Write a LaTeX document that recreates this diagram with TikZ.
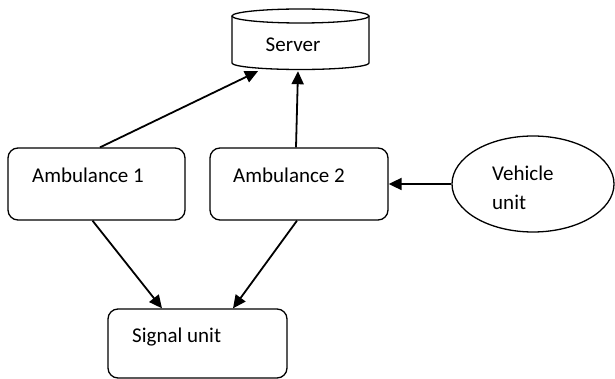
\documentclass[tikz,border=0pt]{standalone}
\usepackage{fontspec}
\setmainfont{Carlito}
\usetikzlibrary{arrows.meta,shapes.geometric,calc}
\begin{document}
\begin{tikzpicture}[x=1pt,y=-1pt,
  font=\fontsize{21}{29}\selectfont,
  outline/.style={draw=black,line width=1.3pt},
  rbox/.style={outline,rounded corners=10pt,inner sep=0pt},
  lbl/.style={anchor=west,inner sep=0pt,align=left},
  conn/.style={line width=1.8pt,-{Triangle[length=13pt,width=12pt]}}]
\useasboundingbox (0,0) rectangle (615,379);
% server cylinder
\node[minimum width=137pt,minimum height=54pt,inner sep=0pt] (server) at (300.5,41) {};
\draw[outline] (232,16) -- (232,63) arc[start angle=180,end angle=360,x radius=68.5pt,y radius=6.5pt] -- (369,16);
\draw[outline] (300.5,16) ellipse[x radius=68.5pt,y radius=7pt];
\node[inner sep=0pt] (servertxt) at (293,45) {Server};
% boxes
\node[rbox,minimum width=177pt,minimum height=72pt] (amb1) at (96.5,184) {};
\node[lbl] (amb1txt) at (32,175) {Ambulance 1};
\node[rbox,minimum width=178pt,minimum height=72pt] (amb2) at (299,184) {};
\node[lbl] (amb2txt) at (233,175) {Ambulance 2};
\node[rbox,minimum width=179pt,minimum height=69pt] (sig) at (197.5,343.5) {};
\node[lbl] (sigtxt) at (132,337) {Signal unit};
\node[ellipse,outline,minimum width=162pt,minimum height=96pt,inner sep=0pt] (veh) at (533,184) {};
\node[lbl] (vehtxt) at (492,187.5) {Vehicle\\unit};
% connectors
\draw[conn] ($(amb1.north)+(3.5,0)$) -- ($(server.south)+(-42.5,3)$);
\draw[conn] ($(amb2.north)+(-3,0)$) -- ($(server.south)+(-2.5,3)$);
\draw[conn] (veh.west) -- (amb2.east);
\draw[conn] ($(amb1.south)+(-4,0)$) -- ($(sig.north)+(-35.5,0)$);
\draw[conn] ($(amb2.south)+(-2,0)$) -- ($(sig.north)+(35.5,0)$);
\end{tikzpicture}
\end{document}
